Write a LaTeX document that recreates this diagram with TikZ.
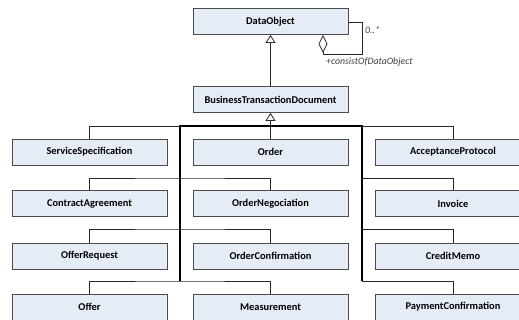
\documentclass[tikz,border=0pt]{standalone}
\usepackage{fontspec}
\setmainfont{Carlito}
\usetikzlibrary{arrows.meta}
\definecolor{boxfill}{RGB}{230,236,246}
\definecolor{boxline}{RGB}{75,75,75}
\definecolor{wire}{RGB}{40,40,40}
\tikzset{
  cls/.style={draw=boxline, fill=boxfill, line width=0.8pt, minimum width=155pt,
    minimum height=26pt, inner sep=0pt, font=\bfseries\fontsize{10.4}{12}\selectfont},
  wideclass/.style={cls, minimum width=156pt},
  branch/.style={draw=wire, line width=0.8pt},
  bus/.style={draw=black, line width=1.2pt},
  gen/.style={-{Triangle[open, length=8pt, width=10pt, fill=white]}},
  agg/.style={{Diamond[open, length=18pt, width=9pt, fill=white]}-},
  role/.style={font=\itshape\fontsize{9.8}{11}\selectfont, text=black!75, inner sep=0pt}
}
\begin{document}
\begin{tikzpicture}[x=1pt,y=-1pt]
\useasboundingbox (0,0) rectangle (519,320);
\clip (0,0) rectangle (519,320);
% classes
\node[cls] (do)  at (270.5,21.5) {DataObject};
\node[cls] (btd) at (270.5,99.5) {BusinessTransactionDocument};
\node[cls] (ss)  at (89.5,152) {ServiceSpecification};
\node[cls] (ord) at (270.5,152) {Order};
\node[wideclass] (ap)  at (453,152) {AcceptanceProtocol};
\node[cls] (ca)  at (89.5,203.5) {ContractAgreement};
\node[cls] (on)  at (270.5,203.5) {OrderNegociation};
\node[wideclass] (inv) at (453,203.5) {Invoice};
\node[cls] (orq) at (89.5,256) {OfferRequest};
\node[cls] (oc)  at (270.5,256) {OrderConfirmation};
\node[wideclass] (cm)  at (453,256) {CreditMemo};
\node[cls] (off) at (89.5,307) {Offer};
\node[cls] (ms)  at (270.5,307) {Measurement};
\node[wideclass] (pc)  at (453,307) {PaymentConfirmation};
% inheritance to DataObject
\draw[branch, gen] (btd.north) -- (do.south);
% self aggregation
\coordinate (sa1) at (362,22);
\coordinate (sa2) at (362,54);
\coordinate (sa3) at (323,54);
\draw[branch, agg] (do.south -| sa3) -- (sa3) -- (sa2) -- (sa1) -- (do.east |- sa1);
\node[role, anchor=west] (mult) at (365,30) {0..*};
\node[role, anchor=west] (rname) at (326,62) {+consistOfDataObject};
% generalization tree
\coordinate (bl1) at (180,126);
\coordinate (br1) at (362,126);
\coordinate (bl2) at (180,178);
\coordinate (br2) at (362,178);
\coordinate (bl3) at (180,229);
\coordinate (br3) at (362,229);
\coordinate (bl4) at (180,281);
\coordinate (br4) at (362,281);
\draw[branch] (ss.north) |- (bl1);
\draw[branch] (br1) -| (ap.north);
\draw[branch] (ca.north) |- (bl2) -| (on.north);
\draw[branch] (br2) -| (inv.north);
\draw[branch] (orq.north) |- (bl3) -| (oc.north);
\draw[branch] (br3) -| (cm.north);
\draw[branch] (off.north) |- (bl4) -| (ms.north);
\draw[branch] (br4) -| (pc.north);
\draw[bus] (bl4) -- (bl1) -- (br1) -- (br4);
\draw[branch, gen] (ord.north) -- (btd.south);
\end{tikzpicture}
\end{document}
